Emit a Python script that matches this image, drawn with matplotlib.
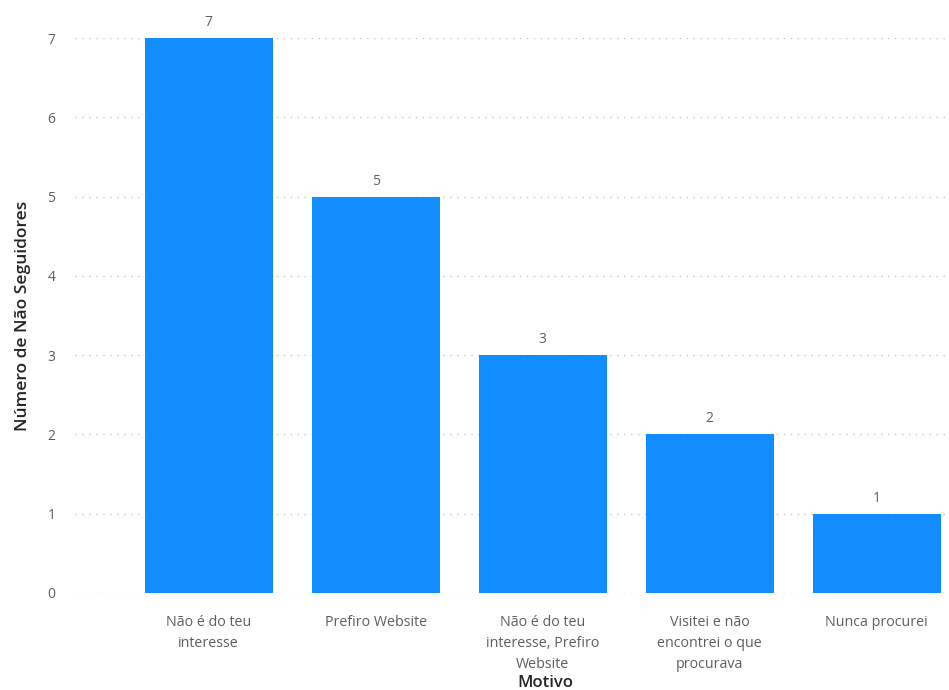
import matplotlib.pyplot as plt

motivos = [
    'Não é do teu\ninteresse',
    'Prefiro Website',
    'Não é do teu\ninteresse, Prefiro\nWebsite',
    'Visitei e não\nencontrei o que\nprocurava',
    'Nunca procurei',
]
seguidores = [7, 5, 3, 2, 1]

plt.rcParams['font.family'] = ['Open Sans', 'DejaVu Sans']

fig = plt.figure(figsize=(9.49, 6.9), dpi=100)
ax = fig.add_axes([0.079, 0.1406, 0.917, 0.8043])

x = range(len(motivos))
bars = ax.bar(x, seguidores, width=0.766, color='#118DFF', zorder=3)

for b, v in zip(bars, seguidores):
    ax.text(b.get_x() + b.get_width() / 2, v + 0.1, str(v),
            ha='center', va='bottom', fontsize=10, color='#605E5C')

ax.set_ylim(0, 7)
ax.set_xlim(-0.8, 4.41)
ax.set_yticks(range(0, 8))
ax.yaxis.grid(True, linestyle=(0, (1, 4)), color='#C8C6C4', linewidth=1)
ax.set_axisbelow(True)

ax.set_xticks(list(x))
ax.set_xticklabels(motivos, fontsize=10.3, color='#605E5C', linespacing=1.55)
ax.tick_params(axis='x', length=0, pad=16)
ax.tick_params(axis='y', length=0, pad=14, labelsize=10, labelcolor='#605E5C')

for s in ax.spines.values():
    s.set_visible(False)

ax.set_ylabel('Número de Não Seguidores', fontsize=12.5, color='#252423',
              fontweight='semibold', labelpad=12)
fig.text(545 / 949, 1 - 683 / 690, 'Motivo', ha='center', va='center',
         fontsize=12, color='#252423', fontweight='semibold')

fig.savefig('out.png', dpi=100)
